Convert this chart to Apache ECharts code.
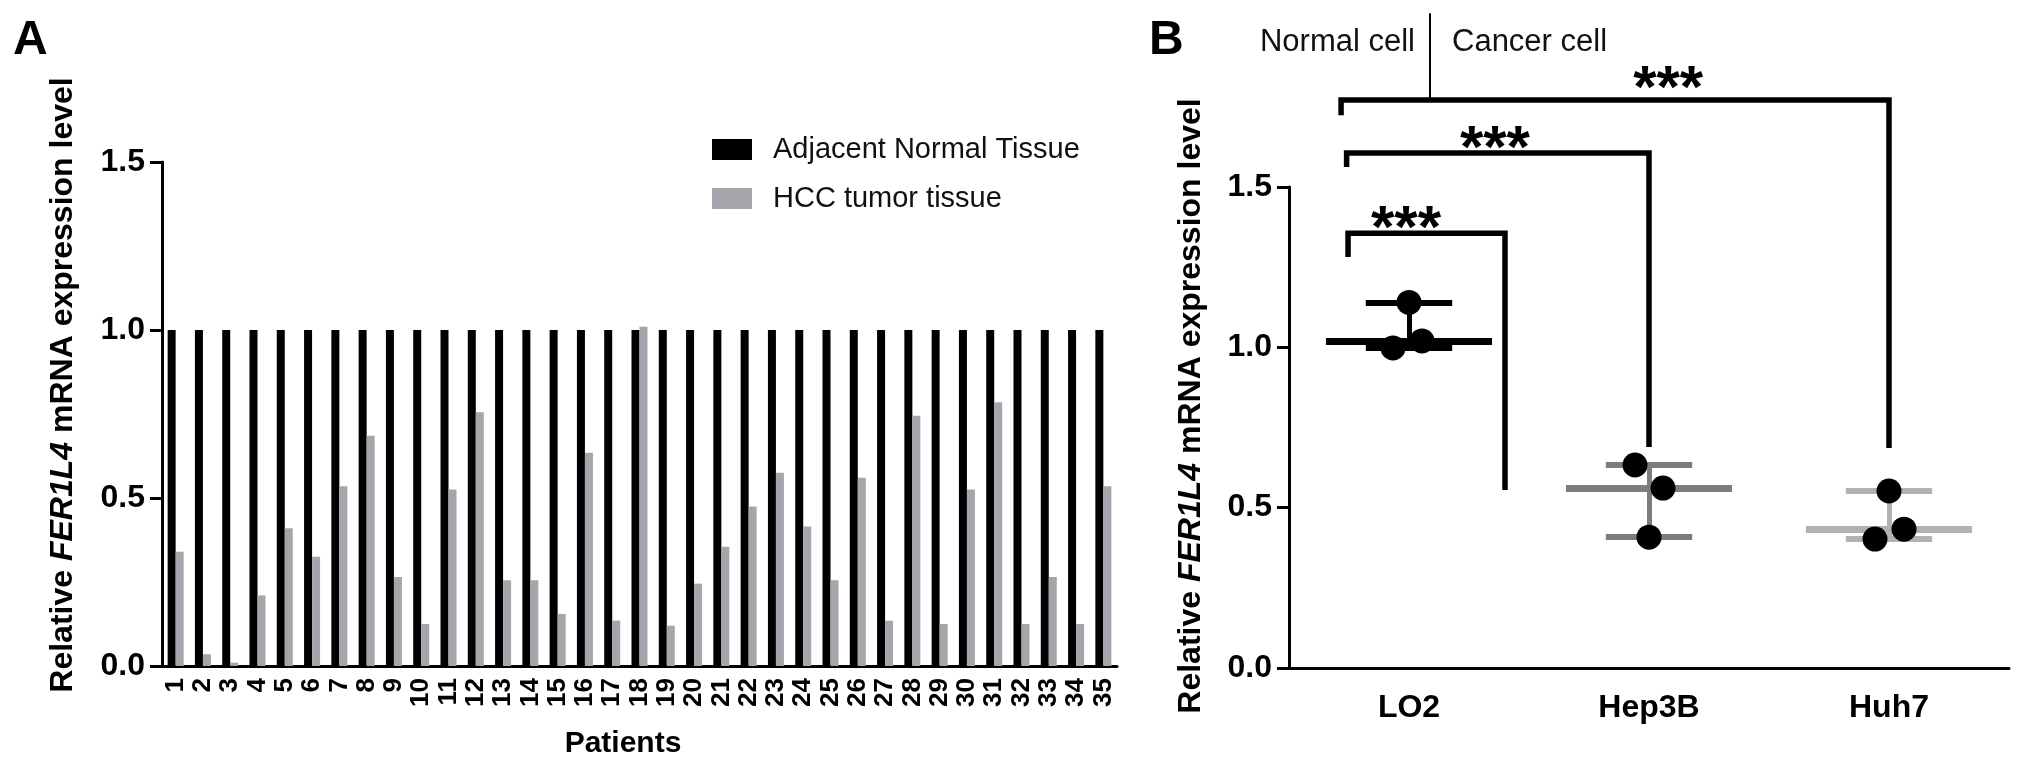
<!DOCTYPE html>
<html><head><meta charset="utf-8">
<script src="https://cdn.jsdelivr.net/npm/echarts@6/dist/echarts.min.js"></script>
<style>html,body{margin:0;padding:0;background:#fff}#c{width:2026px;height:772px}</style>
</head><body><div id="c"></div>
<script>
// ---------- DATA ----------
const patients = ['1','2','3','4','5','6','7','8','9','10','11','12','13','14','15','16','17','18','19','20','21','22','23','24','25','26','27','28','29','30','31','32','33','34','35'];
const adjacentNormal = [1,1,1,1,1,1,1,1,1,1,1,1,1,1,1,1,1,1,1,1,1,1,1,1,1,1,1,1,1,1,1,1,1,1,1];
const hccTumor = [0.34,0.035,0.01,0.21,0.41,0.325,0.535,0.685,0.265,0.125,0.525,0.755,0.255,0.255,0.155,0.635,0.135,1.01,0.12,0.245,0.355,0.475,0.575,0.415,0.255,0.56,0.135,0.745,0.125,0.525,0.785,0.125,0.265,0.125,0.535];
const seriesNames = ['Adjacent Normal Tissue','HCC tumor tissue'];
const yTicks = [0, 0.5, 1.0, 1.5];

const cellLines = ['LO2','Hep3B','Huh7'];
const lo2Values = [1.14, 0.998, 1.02];
const hep3bValues = [0.633, 0.561, 0.408];
const huh7Values = [0.552, 0.433, 0.402];

// significance brackets (data units): x left/right, y: [left end, top, right end]
const bracketX = [[-0.254, 0.4], [-0.26, 1.0], [-0.283, 2.0]];
const bracketY = [[1.282, 1.356, 0.555], [1.562, 1.606, 0.689], [1.724, 1.771, 0.686]];
const starLabels = ['***','***','***'];
const starPos = [[-0.0125, 1.363], [0.358, 1.615], [1.08, 1.802]];
const dividerLine = [[0.0875, 1.771], [0.0875, 2.042]];

// ---------- STYLE ----------
const FONT = 'Liberation Sans, Arial, Helvetica, sans-serif';
const groupColors = ['#000000', '#7d7d7d', '#b2b2b2'];
const jitterPx = [[0, -16, 13], [-14, 14, 0], [0, 15, -14]];
const MEDIAN_HALF = 0.346, CAP_HALF = 0.18;

const groups = [lo2Values, hep3bValues, huh7Values];
function median(a){const s=[...a].sort((x,y)=>x-y);return s[Math.floor(s.length/2)];}

const lineItems = [];
groups.forEach((vals, i) => {
  const mn = Math.min(...vals), mx = Math.max(...vals), md = median(vals);
  const c = groupColors[i];
  lineItems.push({coords: [[i, mn], [i, mx]], lineStyle: {color: c, width: 5, opacity: 1}});
  lineItems.push({coords: [[i - CAP_HALF, mx], [i + CAP_HALF, mx]], lineStyle: {color: c, width: 6, opacity: 1}});
  lineItems.push({coords: [[i - CAP_HALF, mn], [i + CAP_HALF, mn]], lineStyle: {color: c, width: 6, opacity: 1}});
  lineItems.push({coords: [[i - MEDIAN_HALF, md], [i + MEDIAN_HALF, md]], lineStyle: {color: c, width: 7, opacity: 1}});
});

const bracketItems = bracketX.map((bx, k) => ({
  coords: [[bx[0], bracketY[k][0]], [bx[0], bracketY[k][1]], [bx[1], bracketY[k][1]], [bx[1], bracketY[k][2]]]
}));

const pointData = [];
groups.forEach((vals, i) => vals.forEach((v, j) => {
  pointData.push({value: [i, v], symbolOffset: [jitterPx[i][j], 0]});
}));

const axisLineStyle = {color: '#000', width: 3};
const tickLabelStyle = {color: '#000', fontSize: 32, fontWeight: 'bold', fontFamily: FONT};
const yLabelRich = {a: {fontSize: 32, fontWeight: 'bold', fontFamily: FONT, fill: '#000'},
                    b: {fontSize: 32, fontWeight: 'bold', fontStyle: 'italic', fontFamily: FONT, fill: '#000'}};

const chart = echarts.init(document.getElementById('c'), null, {renderer: 'canvas'});
chart.setOption({
  backgroundColor: '#fff',
  animation: false,
  grid: [
    {left: 162, top: 162, width: 955, height: 504},
    {left: 1289, top: 187, width: 720, height: 481}
  ],
  legend: {
    data: seriesNames, orient: 'vertical', left: 707, top: 130,
    itemWidth: 40, itemHeight: 21, itemGap: 20, icon: 'rect',
    textStyle: {fontSize: 29, color: '#111', fontFamily: FONT, padding: [0, 0, 0, 16]}
  },
  xAxis: [
    {type: 'category', gridIndex: 0, data: patients, boundaryGap: true,
     axisLine: {lineStyle: axisLineStyle},
     axisTick: {alignWithLabel: true, length: 10, lineStyle: {width: 3, color: '#000'}},
     axisLabel: {interval: 0, rotate: 90, margin: 12, color: '#000', fontSize: 26, fontWeight: 'bold', fontFamily: FONT}},
    {type: 'category', gridIndex: 1, data: cellLines, boundaryGap: true,
     axisLine: {lineStyle: axisLineStyle},
     axisTick: {alignWithLabel: true, length: 10, lineStyle: {width: 3, color: '#000'}},
     axisLabel: Object.assign({margin: 24}, tickLabelStyle)},
    {type: 'value', gridIndex: 1, min: -0.5, max: 2.5, show: false}
  ],
  yAxis: [
    {type: 'value', gridIndex: 0, min: yTicks[0], max: yTicks[yTicks.length-1], interval: 0.5,
     splitLine: {show: false}, axisLine: {show: true, onZero: false, lineStyle: axisLineStyle},
     axisTick: {show: true, length: 12, lineStyle: {width: 3, color: '#000'}},
     axisLabel: Object.assign({margin: 17, formatter: v => v.toFixed(1)}, tickLabelStyle)},
    {type: 'value', gridIndex: 1, min: yTicks[0], max: yTicks[yTicks.length-1], interval: 0.5,
     splitLine: {show: false}, axisLine: {show: true, onZero: false, lineStyle: axisLineStyle},
     axisTick: {show: true, length: 12, lineStyle: {width: 3, color: '#000'}},
     axisLabel: Object.assign({margin: 17, formatter: v => v.toFixed(1)}, tickLabelStyle)}
  ],
  series: [
    {name: seriesNames[0], type: 'bar', xAxisIndex: 0, yAxisIndex: 0, data: adjacentNormal,
     barWidth: 8, barGap: '0%', itemStyle: {color: '#000'}},
    {name: seriesNames[1], type: 'bar', xAxisIndex: 0, yAxisIndex: 0, data: hccTumor,
     barWidth: 8, barGap: '0%', itemStyle: {color: '#a5a5ab'}},
    {type: 'lines', coordinateSystem: 'cartesian2d', xAxisIndex: 2, yAxisIndex: 1, clip: false,
     data: lineItems, lineStyle: {opacity: 1}, z: 3, silent: true},
    {type: 'lines', coordinateSystem: 'cartesian2d', xAxisIndex: 2, yAxisIndex: 1, clip: false, polyline: true,
     data: bracketItems, lineStyle: {color: '#000', width: 5.5, opacity: 1, join: 'miter'}, z: 3, silent: true},
    {type: 'lines', coordinateSystem: 'cartesian2d', xAxisIndex: 2, yAxisIndex: 1, clip: false,
     data: [{coords: dividerLine}], lineStyle: {color: '#000', width: 2, opacity: 1}, z: 3, silent: true},
    {type: 'scatter', xAxisIndex: 1, yAxisIndex: 1, data: pointData, symbol: 'circle', symbolSize: 25,
     itemStyle: {color: '#000', opacity: 1}, z: 5, silent: true},
    {type: 'scatter', xAxisIndex: 2, yAxisIndex: 1, clip: false, symbolSize: 1,
     itemStyle: {color: 'rgba(0,0,0,0)'},
     data: starPos.map((p, k) => ({value: p, label: {formatter: starLabels[k]}})),
     label: {show: true, position: 'inside', color: '#000', opacity: 1, textBorderWidth: 0, textBorderColor: 'transparent',
             fontSize: 60, fontFamily: FONT, fontWeight: 'bold'},
     z: 6, silent: true}
  ],
  graphic: [
    {type: 'text', x: 13, y: 17, style: {text: 'A', fill: '#000', font: 'bold 48px ' + FONT}},
    {type: 'text', x: 1149, y: 17, style: {text: 'B', fill: '#000', font: 'bold 48px ' + FONT}},
    {type: 'text', x: 63, y: 385, rotation: Math.PI / 2,
     style: {text: '{a|Relative }{b|FER1L4}{a| mRNA expression level}', align: 'center', verticalAlign: 'middle', rich: yLabelRich}},
    {type: 'text', x: 1191, y: 406, rotation: Math.PI / 2,
     style: {text: '{a|Relative }{b|FER1L4}{a| mRNA expression level}', align: 'center', verticalAlign: 'middle', rich: yLabelRich}},
    {type: 'text', x: 623, y: 744, style: {text: 'Patients', fill: '#000', font: 'bold 30px ' + FONT, align: 'center', verticalAlign: 'middle'}},
    {type: 'text', x: 1415, y: 42, style: {text: 'Normal cell', fill: '#111', font: '31px ' + FONT, align: 'right', verticalAlign: 'middle'}},
    {type: 'text', x: 1452, y: 42, style: {text: 'Cancer cell', fill: '#111', font: '31px ' + FONT, align: 'left', verticalAlign: 'middle'}}
  ]
});
</script></body></html>
